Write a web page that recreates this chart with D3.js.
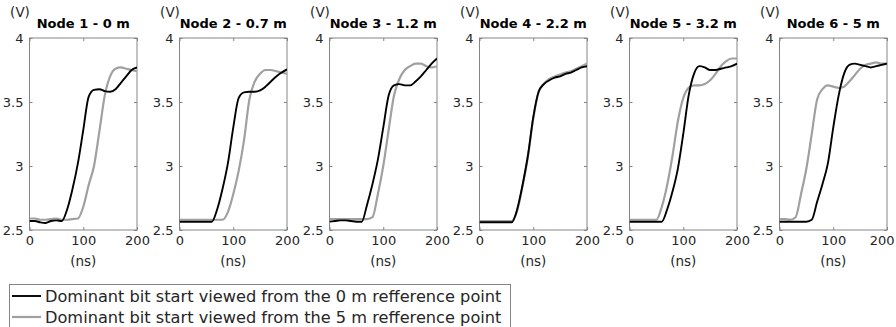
<!DOCTYPE html>
<html>
<head>
<meta charset="utf-8">
<script src="https://cdn.jsdelivr.net/npm/d3@7"></script>
<style>
  body { margin: 0; background: white; }
  svg { display: block; }
</style>
</head>
<body>
<div id="chart"></div>
<script>
// sample times (ns)
const times = [0, 10, 20, 30, 40, 50, 60, 70, 80, 90, 100, 110, 120, 130, 140, 150, 160, 170, 180, 190, 200]

const titles = ["Node 1 - 0 m", "Node 2 - 0.7 m", "Node 3 - 1.2 m", "Node 4 - 2.2 m", "Node 5 - 3.2 m", "Node 6 - 5 m"]

// voltage viewed from the 0 m reference point (black)
const from0m = [
    [2.57, 2.57, 2.56, 2.555, 2.57, 2.575, 2.57, 2.66, 2.82, 3.02, 3.28, 3.54, 3.595, 3.6, 3.585, 3.58, 3.6, 3.65, 3.7, 3.75, 3.77],
    [2.565, 2.565, 2.565, 2.565, 2.565, 2.565, 2.565, 2.66, 2.82, 3.02, 3.3, 3.53, 3.575, 3.58, 3.58, 3.59, 3.62, 3.66, 3.7, 3.73, 3.755],
    [2.565, 2.57, 2.575, 2.575, 2.57, 2.565, 2.565, 2.7, 2.86, 3.05, 3.3, 3.55, 3.63, 3.64, 3.63, 3.63, 3.66, 3.7, 3.75, 3.8, 3.84],
    [2.56, 2.56, 2.56, 2.56, 2.56, 2.56, 2.56, 2.66, 2.85, 3.08, 3.38, 3.58, 3.64, 3.67, 3.69, 3.7, 3.72, 3.73, 3.75, 3.77, 3.78],
    [2.565, 2.565, 2.565, 2.565, 2.565, 2.565, 2.565, 2.66, 2.8, 2.98, 3.25, 3.55, 3.72, 3.78, 3.77, 3.75, 3.75, 3.76, 3.77, 3.78, 3.8],
    [2.565, 2.565, 2.565, 2.565, 2.565, 2.565, 2.58, 2.72, 2.86, 3.02, 3.3, 3.55, 3.72, 3.79, 3.8, 3.79, 3.78, 3.77, 3.78, 3.79, 3.8]
]

// voltage viewed from the 5 m reference point (gray)
const from5m = [
    [2.59, 2.59, 2.58, 2.58, 2.585, 2.59, 2.58, 2.58, 2.585, 2.59, 2.68, 2.85, 3.0, 3.27, 3.55, 3.7, 3.76, 3.77, 3.76, 3.75, 3.74],
    [2.58, 2.58, 2.58, 2.58, 2.58, 2.58, 2.58, 2.58, 2.58, 2.64, 2.78, 2.96, 3.2, 3.52, 3.66, 3.72, 3.75, 3.75, 3.74, 3.73, 3.72],
    [2.585, 2.585, 2.585, 2.585, 2.585, 2.585, 2.585, 2.585, 2.6, 2.78, 3.0, 3.28, 3.55, 3.68, 3.75, 3.78, 3.8, 3.8, 3.78, 3.77, 3.78],
    [2.57, 2.57, 2.57, 2.57, 2.57, 2.57, 2.57, 2.65, 2.84, 3.07, 3.37, 3.58, 3.645, 3.68, 3.7, 3.715, 3.73, 3.74, 3.76, 3.78, 3.8],
    [2.58, 2.58, 2.58, 2.58, 2.58, 2.58, 2.68, 2.85, 3.08, 3.35, 3.53, 3.61, 3.63, 3.63, 3.64, 3.67, 3.72, 3.78, 3.82, 3.84, 3.84],
    [2.585, 2.585, 2.58, 2.6, 2.78, 2.98, 3.25, 3.52, 3.6, 3.63, 3.62, 3.61, 3.62, 3.66, 3.71, 3.76, 3.79, 3.8, 3.81, 3.8, 3.8]
]

const xTicks = [0, 100, 200]
const yTicks = [2.5, 3, 3.5, 4]

const legendLabels = [
    "Dominant bit start viewed from the 0 m refference point",
    "Dominant bit start viewed from the 5 m refference point"
]

const CONFIG = {
    width: 896,
    height: 327,
    left: 29.5,
    step: 150,
    plotW: 107.5,
    top: 38,
    bottom: 230,
    axisColor: '#858585',
    textColor: '#262626',
    black: '#000000',
    gray: '#a0a0a0',
    font: '"DejaVu Sans", Verdana, sans-serif'
}

const svg = d3.select('#chart')
    .append('svg')
    .attr('width', CONFIG.width)
    .attr('height', CONFIG.height)
    .style('font-family', CONFIG.font)

const y = d3.scaleLinear()
    .domain([2.5, 4])
    .range([CONFIG.bottom, CONFIG.top])

titles.forEach((title, i) => {
    const x0 = CONFIG.left + CONFIG.step * i
    const x = d3.scaleLinear()
        .domain([0, 200])
        .range([x0, x0 + CONFIG.plotW])

    const g = svg.append('g')

    g.append('clipPath')
        .attr('id', 'clip' + i)
        .append('rect')
        .attr('x', x0)
        .attr('y', CONFIG.top)
        .attr('width', CONFIG.plotW)
        .attr('height', CONFIG.bottom - CONFIG.top)

    // axes (ticks inward, MATLAB style)
    const left = g.append('g')
        .attr('transform', `translate(${x0}, 0)`)
        .call(d3.axisLeft(y).tickValues(yTicks).tickSizeInner(-3).tickSizeOuter(0).tickPadding(6).tickFormat((d) => String(d)))
    const right = g.append('g')
        .attr('transform', `translate(${x0 + CONFIG.plotW}, 0)`)
        .call(d3.axisRight(y).tickValues(yTicks).tickSizeInner(-3).tickSizeOuter(0).tickFormat(''))
    const bottom = g.append('g')
        .attr('transform', `translate(0, ${CONFIG.bottom})`)
        .call(d3.axisBottom(x).tickValues(xTicks).tickSizeInner(-3).tickSizeOuter(0).tickPadding(6).tickFormat((d) => String(d)))
    const top = g.append('g')
        .attr('transform', `translate(0, ${CONFIG.top})`)
        .call(d3.axisTop(x).tickValues(xTicks).tickSizeInner(-3).tickSizeOuter(0).tickFormat(''))

    ;[left, right, bottom, top].forEach((a) => {
        a.select('.domain').remove()
        a.selectAll('line').attr('stroke', CONFIG.axisColor)
        a.selectAll('text')
            .attr('fill', CONFIG.textColor)
            .style('font-family', CONFIG.font)
            .style('font-size', '13px')
    })

    // last panel: keep the "200" inside the page
    if (i === titles.length - 1) {
        bottom.selectAll('.tick')
            .filter((d) => d === 200)
            .select('text')
            .attr('text-anchor', 'end')
            .attr('x', CONFIG.width - 2 - x(200))
    }

    g.append('rect')
        .attr('x', x0)
        .attr('y', CONFIG.top)
        .attr('width', CONFIG.plotW)
        .attr('height', CONFIG.bottom - CONFIG.top)
        .attr('fill', 'none')
        .attr('stroke', CONFIG.axisColor)
        .attr('stroke-width', 1)

    const line = d3.line()
        .x((d, k) => x(times[k]))
        .y((d) => y(d))
        .curve(d3.curveMonotoneX)

    g.append('path')
        .attr('d', line(from5m[i]))
        .attr('clip-path', `url(#clip${i})`)
        .attr('fill', 'none')
        .attr('stroke', CONFIG.gray)
        .attr('stroke-width', 2.2)

    g.append('path')
        .attr('d', line(from0m[i]))
        .attr('clip-path', `url(#clip${i})`)
        .attr('fill', 'none')
        .attr('stroke', CONFIG.black)
        .attr('stroke-width', 1.9)

    // title and labels
    g.append('text')
        .attr('x', x0 + CONFIG.plotW / 2)
        .attr('y', 28)
        .attr('text-anchor', 'middle')
        .attr('font-weight', 'bold')
        .attr('font-size', '13px')
        .attr('fill', '#000')
        .text(title)

    g.append('text')
        .attr('x', x0 - 9.5)
        .attr('y', 17)
        .attr('text-anchor', 'middle')
        .attr('font-size', '13.5px')
        .attr('fill', CONFIG.textColor)
        .text('(V)')

    g.append('text')
        .attr('x', x0 + CONFIG.plotW / 2)
        .attr('y', 266)
        .attr('text-anchor', 'middle')
        .attr('font-size', '13.5px')
        .attr('fill', CONFIG.textColor)
        .text('(ns)')
})

// legend
const legend = svg.append('g')
legend.append('rect')
    .attr('x', 9.5)
    .attr('y', 284.5)
    .attr('width', 501)
    .attr('height', 60)
    .attr('fill', 'white')
    .attr('stroke', CONFIG.axisColor)

const items = legend.selectAll('.item')
    .data(legendLabels)
    .enter()
    .append('g')
    .classed('item', true)
    .attr('transform', (d, i) => `translate(0, ${296 + i * 21})`)

items.append('line')
    .attr('x1', 12)
    .attr('x2', 41)
    .attr('stroke', (d, i) => i === 0 ? CONFIG.black : CONFIG.gray)
    .attr('stroke-width', (d, i) => i === 0 ? 1.9 : 2.2)

items.append('text')
    .attr('x', 45)
    .attr('dy', '0.36em')
    .attr('font-size', '16.2px')
    .attr('fill', CONFIG.textColor)
    .text((d) => d)
</script>
</body>
</html>
